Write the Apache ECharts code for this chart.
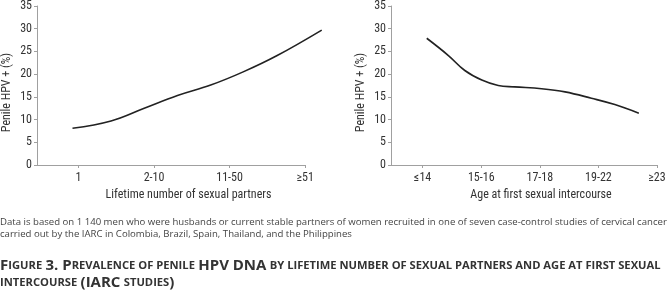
<!DOCTYPE html>
<html>
<head>
<meta charset="utf-8">
<script src="https://cdn.jsdelivr.net/npm/echarts@6/dist/echarts.min.js"></script>
<style>
  html, body { margin: 0; padding: 0; background: #fff; }
  #main { width: 671px; height: 293px; }
</style>
</head>
<body>
<div id="main"></div>
<script>
// categories on the two x axes
var partnerCats = ['1', '2-10', '11-50', '\u226551'];
var ageCats = ['\u226414', '15-16', '17-18', '19-22', '\u226523'];

// curves: [position on category scale, % positive]
var partnerCurve = [[0.92, 8.1], [1.43, 9.7], [1.87, 12.5], [2.31, 15.3], [2.75, 17.6], [3.18, 20.5], [3.63, 24.1], [4.22, 29.7]];
var ageCurve = [[1.07, 27.9], [1.44, 24.1], [1.72, 20.8], [2.01, 18.7], [2.29, 17.5], [2.57, 17.2], [3.03, 16.8], [3.43, 16.1], [3.88, 14.7], [4.28, 13.3], [4.69, 11.4]];

var noteText = 'Data is based on 1 140 men who were husbands or current stable partners of women recruited in one of seven case-control studies of cervical cancer\ncarried out by the IARC in Colombia, Brazil, Spain, Thailand, and the Philippines';

var chartDom = document.getElementById('main');
var myChart = echarts.init(chartDom);
var option;

var axisFont = "'Liberation Sans Narrow', 'Roboto Condensed', 'Liberation Sans', sans-serif";
var textFont = "'Open Sans', Lato, sans-serif";
var axisGrey = '#a0a0a0';

function xAxisFor(idx, cats, min, max, name, shift) {
    var ticks = cats.map(function (c, i) { return i + 1; });
    return {
        type: 'value',
        gridIndex: idx,
        min: min,
        max: max,
        splitLine: { show: false },
        axisLine: { show: false },
        axisTick: { show: true, customValues: ticks, length: 3, lineStyle: { color: axisGrey } },
        axisLabel: {
            customValues: ticks,
            formatter: function (v) { return cats[Math.round(v) - 1]; },
            color: '#333', fontSize: 12, fontFamily: axisFont, margin: 7
        },
        name: name,
        nameLocation: 'middle',
        nameGap: 23,
        nameTextStyle: { color: '#333', fontSize: 12, fontFamily: axisFont, padding: [0, 0, 0, shift] }
    };
}

function yAxisFor(idx) {
    return {
        type: 'value',
        gridIndex: idx,
        min: 0, max: 35, interval: 5,
        splitLine: { show: false },
        axisLine: { show: true, lineStyle: { color: axisGrey, width: 1 } },
        axisTick: { show: true, length: 3, lineStyle: { color: axisGrey } },
        axisLabel: { color: '#333', fontSize: 12, fontFamily: axisFont, margin: 5 },
        name: 'Penile HPV + (%)',
        nameLocation: 'middle',
        nameGap: 24,
        nameTextStyle: { color: '#333', fontSize: 12, fontFamily: axisFont, padding: [0, 14, 0, 0] }
    };
}

// the bottom axis line runs from the axis start to the last category only
function baseLine(min, last) {
    return {
        silent: true,
        symbol: ['none', 'none'],
        label: { show: false },
        lineStyle: { color: axisGrey, width: 1, type: 'solid' },
        data: [[{ coord: [min, 0] }, { coord: [last, 0] }]]
    };
}

option = {
    animation: false,
    backgroundColor: '#fff',
    grid: [
        { left: 36, right: 347, top: 3, bottom: 128 },
        { left: 391, right: 14, top: 3, bottom: 128 }
    ],
    xAxis: [
        xAxisFor(0, partnerCats, 0.45, 4.25, 'Lifetime number of sexual partners', 16),
        xAxisFor(1, ageCats, 0.46, 5, 'Age at first sexual intercourse', 34)
    ],
    yAxis: [yAxisFor(0), yAxisFor(1)],
    series: [
        {
            type: 'line', xAxisIndex: 0, yAxisIndex: 0,
            data: partnerCurve, smooth: 0.4, showSymbol: false,
            lineStyle: { color: '#222', width: 1.6 },
            markLine: baseLine(0.45, partnerCats.length)
        },
        {
            type: 'line', xAxisIndex: 1, yAxisIndex: 1,
            data: ageCurve, smooth: 0.4, showSymbol: false,
            lineStyle: { color: '#222', width: 1.6 },
            markLine: baseLine(0.46, ageCats.length)
        }
    ],
    graphic: [
        {
            type: 'text', left: 0, top: 216,
            style: { text: noteText, fill: '#444', fontSize: 9.6, fontFamily: textFont, lineHeight: 12 }
        },
        {
            type: 'text', left: 0, top: 258,
            style: {
                text: '{b|F}{s|IGURE} {b|3. P}{s|REVALENCE OF PENILE} {b|HPV DNA} {s|BY LIFETIME NUMBER OF SEXUAL PARTNERS AND AGE AT FIRST SEXUAL}\n{s|INTERCOURSE} {b|(IARC} {s|STUDIES}{b|)}',
                fill: '#333',
                rich: {
                    b: { fontSize: 15, fontWeight: 'bold', fontFamily: textFont, fill: '#333', lineHeight: 17 },
                    s: { fontSize: 11.2, fontWeight: 'bold', fontFamily: textFont, fill: '#333', lineHeight: 17 }
                }
            }
        }
    ]
};

option && myChart.setOption(option);
</script>
</body>
</html>
